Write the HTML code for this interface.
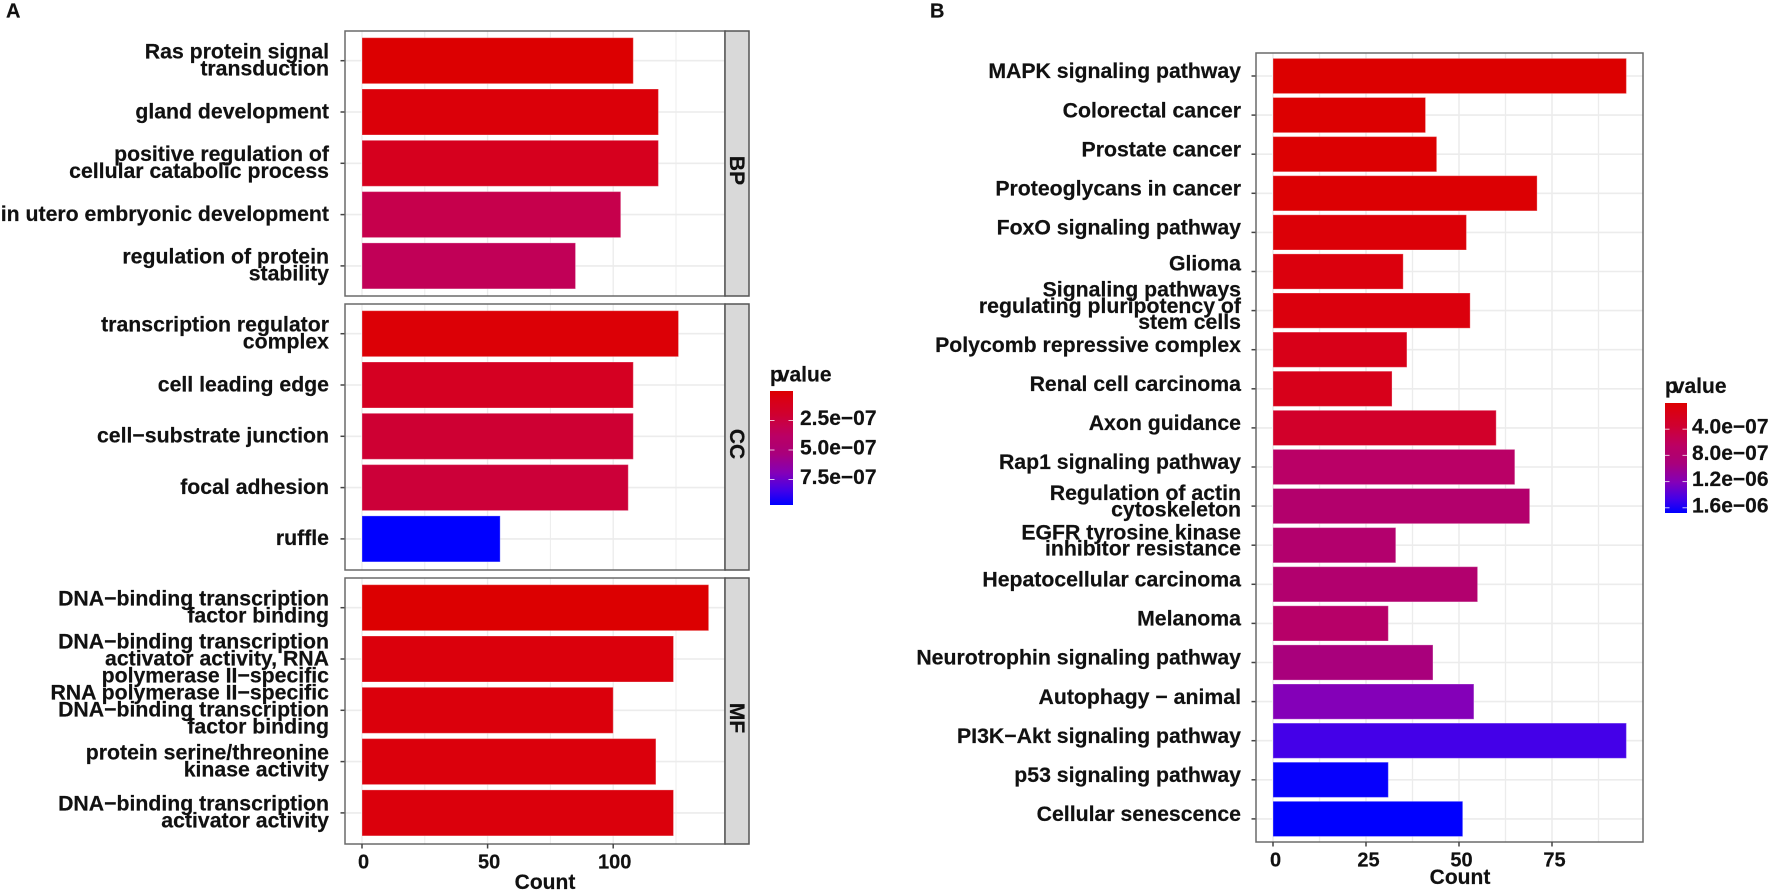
<!DOCTYPE html>
<html lang="en">
<head>
<meta charset="utf-8">
<title>Enrichment bar charts</title>
<style>
html,body{margin:0;padding:0;background:#fff;}
svg{display:block;}
text{font-family:"Liberation Sans",Arial,sans-serif;font-weight:bold;fill:#111;font-size:21px;stroke:#111;stroke-width:0.2px;}
</style>
</head>
<body>
<svg id="chart" xmlns="http://www.w3.org/2000/svg" width="1772" height="891" viewBox="0 0 1772 891">
  <rect x="0" y="0" width="1772" height="891" fill="#fff"/>
  <text x="6" y="17.5" style="font-size:20px">A</text>
  <text x="930" y="17.5" style="font-size:20px">B</text>
  <defs>
    <linearGradient id="legendGrad" x1="0" y1="0" x2="0" y2="1"></linearGradient>
  </defs>
</svg>
<script>
// ---------- Panel A data ----------
const bpTerms = ["Ras protein signal\ntransduction","gland development","positive regulation of\ncellular catabolic process","in utero embryonic development","regulation of protein\nstability"];
const bpCounts = [108,118,118,103,85];
const bpPvalues = [5e-9,3e-8,1.15e-7,2.9e-7,3.3e-7];

const ccTerms = ["transcription regulator\ncomplex","cell leading edge","cell\u2212substrate junction","focal adhesion","ruffle"];
const ccCounts = [126,108,108,106,55];
const ccPvalues = [2e-8,1.35e-7,2.1e-7,2.3e-7,9.66e-7];

const mfTerms = ["DNA\u2212binding transcription\nfactor binding","DNA\u2212binding transcription\nactivator activity, RNA\npolymerase II\u2212specific","RNA polymerase II\u2212specific\nDNA\u2212binding transcription\nfactor binding","protein serine/threonine\nkinase activity","DNA\u2212binding transcription\nactivator activity"];
const mfCounts = [138,124,100,117,124];
const mfPvalues = [3e-9,4e-8,4e-8,4e-8,4e-8];

const facetNames = ["BP","CC","MF"];
const xTicksA = [0,50,100];
const xMinorA = [25,75,125];
const legendTicksA = [2.5e-7,5e-7,7.5e-7];
const legendLabelsA = ["2.5e\u221207","5.0e\u221207","7.5e\u221207"];
const pMaxA = 9.66e-7;

// ---------- Panel B data ----------
const keggTerms = ["MAPK signaling pathway","Colorectal cancer","Prostate cancer","Proteoglycans in cancer","FoxO signaling pathway","Glioma","Signaling pathways\nregulating pluripotency of\nstem cells","Polycomb repressive complex","Renal cell carcinoma","Axon guidance","Rap1 signaling pathway","Regulation of actin\ncytoskeleton","EGFR tyrosine kinase\ninhibitor resistance","Hepatocellular carcinoma","Melanoma","Neurotrophin signaling pathway","Autophagy \u2212 animal","PI3K\u2212Akt signaling pathway","p53 signaling pathway","Cellular senescence"];
const keggCounts = [95,41,44,71,52,35,53,36,32,60,65,69,33,55,31,43,54,95,31,51];
const keggPvalues = [2e-9,5e-9,1e-8,2e-8,4e-8,8e-8,8e-8,1.6e-7,1.7e-7,3e-7,6.7e-7,7.7e-7,7.8e-7,7.9e-7,7.1e-7,9.2e-7,1.21e-6,1.46e-6,1.66e-6,1.68e-6];
const xTicksB = [0,25,50,75];
const xMinorB = [12.5,37.5,62.5,87.5];
const legendTicksB = [4e-7,8e-7,1.2e-6,1.6e-6];
const legendLabelsB = ["4.0e\u221207","8.0e\u221207","1.2e\u221206","1.6e\u221206"];
const pMaxB = 1.68e-6;

// ---------- Colour scale ----------
const stopPositions = [0,0.05,0.12,0.2,0.3,0.4,0.46,0.55,0.72,0.87,1];
const stopColors = ["#dc0000","#db000e","#d6001e","#d0002e","#c6004c","#ba0066","#b3006c","#a9007c","#8400b8","#4400e8","#0000ff"];

function hexToRgb(h){return [parseInt(h.slice(1,3),16),parseInt(h.slice(3,5),16),parseInt(h.slice(5,7),16)];}
function colorAt(t){
  t=Math.max(0,Math.min(1,t));
  for(let i=1;i<stopPositions.length;i++){
    if(t<=stopPositions[i]){
      const f=(t-stopPositions[i-1])/(stopPositions[i]-stopPositions[i-1]);
      const a=hexToRgb(stopColors[i-1]),b=hexToRgb(stopColors[i]);
      return "rgb("+a.map((v,k)=>Math.round(v+(b[k]-v)*f)).join(",")+")";
    }
  }
  return stopColors[stopColors.length-1];
}

// ---------- Helpers ----------
const NS="http://www.w3.org/2000/svg";
const svg=document.getElementById("chart");
function mk(tag,attrs,parent){
  const el=document.createElementNS(NS,tag);
  for(const k in attrs){el.setAttribute(k,attrs[k]);}
  (parent||svg).appendChild(el);
  return el;
}
function slug(s){return s.toLowerCase().replace(/[^a-z0-9]+/g,"-").replace(/^-|-$/g,"");}

const gridColor="#ececec";
const frameColor="#6a6a6a";
const tickColor="#444444";

// Grad for legends
const grad=document.getElementById("legendGrad");
stopPositions.forEach((p,i)=>{
  const s=document.createElementNS(NS,"stop");
  s.setAttribute("offset",p);
  s.setAttribute("stop-color",stopColors[i]);
  grad.appendChild(s);
});

function drawPanel(cfg){
  const g=mk("g",{});
  
  
  const yOf=i=>cfg.top+cfg.first+cfg.pitch*i;
  cfg.minor.forEach(v=>{
    const l=mk("line",{x1:cfg.x(v),x2:cfg.x(v),y1:cfg.top,y2:cfg.bottom,stroke:gridColor,"stroke-width":cfg.minorW},g);
    
    
  });
  cfg.majors.forEach(v=>{
    const l=mk("line",{x1:cfg.x(v),x2:cfg.x(v),y1:cfg.top,y2:cfg.bottom,stroke:gridColor,"stroke-width":cfg.majorW},g);
    
    
  });
  cfg.terms.forEach((term,i)=>{
    const y=yOf(i);
    const gl=mk("line",{x1:cfg.left,x2:cfg.right,y1:y,y2:y,stroke:gridColor,"stroke-width":1.6},g);
    
    
    const bar=mk("rect",{x:cfg.x(0),y:y-cfg.barH/2,width:cfg.x(cfg.counts[i])-cfg.x(0),height:cfg.barH,fill:colorAt(cfg.pvalues[i]/cfg.pMax),stroke:"#ffffff","stroke-opacity":0.3,"stroke-width":1},g);
    
    
    const tm=mk("line",{x1:cfg.left-4.5,x2:cfg.left,y1:y,y2:y,stroke:tickColor,"stroke-width":1.5},g);
    
    
    const lines=term.split("\n");
    const nudge=term==="Glioma"?-3:0;
    const t=mk("text",{x:cfg.labelX,"text-anchor":"end",style:"font-size:21.25px"},g);
    
    
    lines.forEach((ln,k)=>{
      const s=mk("tspan",{x:cfg.labelX,y:y+cfg.labelDy+nudge+(k-(lines.length-1)/2)*cfg.lineH},t);
      s.textContent=ln;
    });
  });
  const frame=mk("rect",{x:cfg.left,y:cfg.top,width:cfg.right-cfg.left,height:cfg.bottom-cfg.top,fill:"none",stroke:frameColor,"stroke-width":1.5},g);
  
  
}

function drawStrip(name,left,right,top,bottom,labelDy){
  const r=mk("rect",{x:left,y:top,width:right-left,height:bottom-top,fill:"#d9d9d9",stroke:"#555555","stroke-width":1.5});
  
  
  const cy=(top+bottom)/2+labelDy;
  const cx=(left+right)/2;
  const t=mk("text",{x:0,y:0,"text-anchor":"middle",transform:"translate("+(cx-7)+","+cy+") rotate(90)"});
  
  
  t.textContent=name;
}

function drawXAxis(x,ticks,axisY,labelY,dx,nameSuffix){
  ticks.forEach(v=>{
    const m=mk("line",{x1:x(v),x2:x(v),y1:axisY,y2:axisY+4.5,stroke:tickColor,"stroke-width":1.5});
    
    
    const t=mk("text",{x:x(v)+dx,y:labelY,"text-anchor":"middle",style:"font-size:20px"});
    
    
    t.textContent=String(v);
  });
}

function drawLegend(cfg){
  const title=mk("text",{x:cfg.x,y:cfg.titleY});
  
  
  const a=mk("tspan",{},title);
  a.textContent="p";
  const b=mk("tspan",{dx:-5},title);
  b.textContent="value";
  const bar=mk("rect",{x:cfg.x,y:cfg.top,width:cfg.w,height:cfg.bottom-cfg.top,fill:"url(#legendGrad)"});
  
  
  const py=p=>cfg.top+(p/cfg.pMax)*(cfg.bottom-cfg.top);
  cfg.ticks.forEach((p,i)=>{
    const y=py(p);
    const l1=mk("line",{x1:cfg.x,x2:cfg.x+4.5,y1:y,y2:y,stroke:"#fff","stroke-opacity":0.75,"stroke-width":1});
    
    
    const l2=mk("line",{x1:cfg.x+cfg.w-4.5,x2:cfg.x+cfg.w,y1:y,y2:y,stroke:"#fff","stroke-opacity":0.75,"stroke-width":1});
    
    
    const t=mk("text",{x:cfg.labelX,y:y+4.5});
    
    
    t.textContent=cfg.labels[i];
  });
}

// ---------- Panel A ----------
const xA=v=>362+2.512*v;
const panelTopsA=[31,304,578];
const panelBottomsA=[296,570,844];
const termSetsA=[bpTerms,ccTerms,mfTerms];
const countSetsA=[bpCounts,ccCounts,mfCounts];
const pvalSetsA=[bpPvalues,ccPvalues,mfPvalues];
facetNames.forEach((nm,i)=>{
  drawPanel({name:"panel-"+nm.toLowerCase(),left:345,right:725,top:panelTopsA[i],bottom:panelBottomsA[i],first:29.7,pitch:51.3,barH:46,
    x:xA,majors:xTicksA,minor:xMinorA,majorW:1.4,minorW:1,terms:termSetsA[i],counts:countSetsA[i],pvalues:pvalSetsA[i],pMax:pMaxA,
    labelX:329,labelDy:6.3,lineH:17});
  drawStrip(nm,725,749,panelTopsA[i],panelBottomsA[i],7);
});
drawXAxis(xA,xTicksA,844,868.5,1.5,"a");
const countA=mk("text",{x:545,y:889,"text-anchor":"middle"});


countA.textContent="Count";
drawLegend({id:"a",x:770,w:23,top:391,bottom:505,titleY:381.5,pMax:pMaxA,ticks:legendTicksA,labels:legendLabelsA,labelX:800});

// ---------- Panel B ----------
const xB=v=>1273+3.72*v;
drawPanel({name:"panel-kegg",left:1256,right:1643,top:53,bottom:842,first:23,pitch:39.1,barH:35.2,
  x:xB,majors:xTicksB,minor:xMinorB,majorW:1.6,minorW:1.3,terms:keggTerms,counts:keggCounts,pvalues:keggPvalues,pMax:pMaxB,
  labelX:1241,labelDy:2.2,lineH:16.2});
drawXAxis(xB,xTicksB,842,866.7,2.5,"b");
const countB=mk("text",{x:1460,y:884,"text-anchor":"middle"});


countB.textContent="Count";
drawLegend({id:"b",x:1665,w:22,top:403,bottom:513,titleY:393,pMax:pMaxB,ticks:legendTicksB,labels:legendLabelsB,labelX:1692});
</script>
</body>
</html>
